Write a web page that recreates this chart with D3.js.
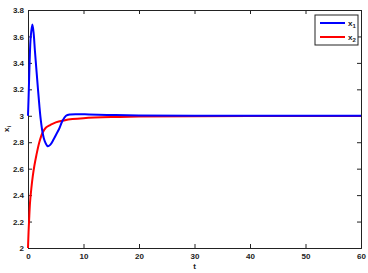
<!DOCTYPE html>
<html>
<head>
<meta charset="utf-8">
<script src="https://cdn.jsdelivr.net/npm/d3@7"></script>
<style>
  body { margin: 0; background: #fff; }
  text { font-family: "Liberation Sans", Arial, sans-serif; font-weight: bold; font-size: 8px; fill: #222; }
</style>
</head>
<body>
<div id="chart"></div>
<script>
// values
var tBlue = [0, 0.15, 0.3, 0.5, 0.78, 1.0, 1.25, 1.55, 1.8, 2.04, 2.3, 2.64, 3.0, 3.55, 4.0, 4.6, 5.1, 5.6, 6.2, 6.85, 7.6, 9, 11, 15, 20, 30, 45, 60];
var x1 = [3.0, 3.2, 3.42, 3.6, 3.69, 3.63, 3.49, 3.33, 3.2, 3.08, 2.97, 2.87, 2.81, 2.77, 2.78, 2.82, 2.86, 2.9, 2.96, 3.0, 3.01, 3.012, 3.01, 3.006, 3.003, 3.001, 3.0, 3.0];
var tRed = [0, 0.1, 0.2, 0.36, 0.6, 0.85, 1.14, 1.5, 2.04, 2.6, 3.2, 4, 5, 6.5, 8, 10, 15, 20, 30, 45, 60];
var x2 = [2.0, 2.12, 2.21, 2.34, 2.45, 2.54, 2.62, 2.7, 2.8, 2.87, 2.91, 2.93, 2.95, 2.965, 2.975, 2.982, 2.99, 2.994, 2.997, 2.998, 2.999];
var xTicks = [0, 10, 20, 30, 40, 50, 60];
var yTicks = [2, 2.2, 2.4, 2.6, 2.8, 3, 3.2, 3.4, 3.6, 3.8];
var seriesNames = ["1", "2"];
var colors = ["#0000ff", "#ff0000"];

var margin = {top: 10, right: 7, bottom: 25, left: 28},
    width = 368 - margin.left - margin.right,
    height = 273 - margin.top - margin.bottom;

var svg = d3.select("#chart").append("svg")
    .attr("width", 368)
    .attr("height", 273);

var g = svg.append("g")
    .attr("transform", "translate(" + margin.left + "," + margin.top + ")");

var x = d3.scaleLinear().domain([0, 60]).range([0, width]);
var y = d3.scaleLinear().domain([2, 3.8]).range([height, 0]);

// axes, ticks pointing inward like matlab
g.append("g")
    .attr("transform", "translate(0," + height + ")")
    .call(d3.axisBottom(x).tickValues(xTicks).tickSize(-4).tickPadding(5).tickFormat(d3.format("d")));
g.append("g")
    .call(d3.axisLeft(y).tickValues(yTicks).tickSize(-4).tickPadding(4).tickFormat(function(d) { return d3.format("~g")(d); }));
g.append("g")
    .call(d3.axisTop(x).tickValues(xTicks).tickSize(-4).tickFormat(""));
g.append("g")
    .attr("transform", "translate(" + width + ",0)")
    .call(d3.axisRight(y).tickValues(yTicks).tickSize(-4).tickFormat(""));

g.selectAll(".domain").attr("stroke", "#222");
g.selectAll(".tick line").attr("stroke", "#222");
g.selectAll(".tick text").attr("fill", "#222").style("font-size", "8px");

var line = d3.line()
    .x(function(d) { return x(d[0]); })
    .y(function(d) { return y(d[1]); })
    .curve(d3.curveCatmullRom.alpha(0.5));

var blueData = tBlue.map(function(t, i) { return [t, x1[i]]; });
var redData = tRed.map(function(t, i) { return [t, x2[i]]; });

g.append("path").datum(redData)
    .attr("fill", "none").attr("stroke", colors[1]).attr("stroke-width", 2)
    .attr("d", line);
g.append("path").datum(blueData)
    .attr("fill", "none").attr("stroke", colors[0]).attr("stroke-width", 2)
    .attr("d", line);

// labels
svg.append("text")
    .attr("x", margin.left + width / 2).attr("y", 269)
    .attr("text-anchor", "middle")
    .text("t");
var yl = svg.append("text")
    .attr("transform", "translate(9," + (margin.top + height / 2) + ") rotate(-90)")
    .attr("text-anchor", "middle");
yl.append("tspan").text("x");
yl.append("tspan").attr("dy", 2).style("font-size", "6px").text("i");

// legend
var leg = svg.append("g").attr("transform", "translate(315,15)");
leg.append("rect")
    .attr("width", 43).attr("height", 30)
    .attr("fill", "#fff").attr("stroke", "#222").attr("stroke-width", 1);
seriesNames.forEach(function(n, i) {
  var yy = 8 + i * 14;
  leg.append("line")
      .attr("x1", 5).attr("x2", 30).attr("y1", yy).attr("y2", yy)
      .attr("stroke", colors[i]).attr("stroke-width", 2);
  var t = leg.append("text").attr("x", 33).attr("y", yy + 3);
  t.append("tspan").text("x");
  t.append("tspan").attr("dy", 2).style("font-size", "6px").text(n);
});
</script>
</body>
</html>
